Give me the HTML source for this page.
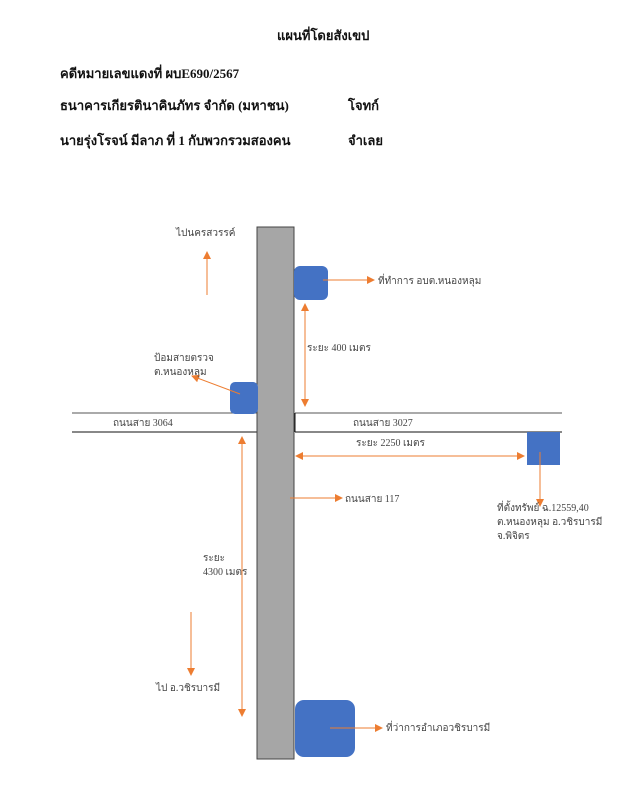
<!DOCTYPE html>
<html><head><meta charset="utf-8"><style>
html,body{margin:0;padding:0;background:#fff;}
svg{display:block}
text{font-family:"Liberation Serif","Noto Serif CJK SC","Noto Sans CJK SC",serif;fill:#333;}
.h{font-size:13px;font-weight:bold;fill:#111;}
.s{font-size:10px;fill:#444;}
</style></head><body>
<svg width="624" height="800" viewBox="0 0 624 800" xmlns="http://www.w3.org/2000/svg">
<defs>
<marker id="a" markerWidth="8" markerHeight="8" refX="7" refY="4" orient="auto" markerUnits="userSpaceOnUse">
<path d="M0,0 L8,4 L0,8 z" fill="#ED7D31"/></marker>
<marker id="b" markerWidth="8" markerHeight="8" refX="1" refY="4" orient="auto" markerUnits="userSpaceOnUse">
<path d="M8,0 L0,4 L8,8 z" fill="#ED7D31"/></marker>
</defs>
<text x="277" y="40" class="h">แผนที่โดยสังเขป</text>
<text x="60" y="78" class="h">คดีหมายเลขแดงที่ ผบE690/2567</text>
<text x="60" y="110" class="h">ธนาคารเกียรตินาคินภัทร จำกัด (มหาชน)</text>
<text x="348" y="110" class="h">โจทก์</text>
<text x="60" y="145" class="h">นายรุ่งโรจน์ มีลาภ ที่ 1 กับพวกรวมสองคน</text>
<text x="348" y="145" class="h">จำเลย</text>

<line x1="72" y1="413" x2="258" y2="413" stroke="#555" stroke-width="1"/>
<line x1="72" y1="432" x2="258" y2="432" stroke="#111" stroke-width="1"/>
<line x1="295" y1="413" x2="562" y2="413" stroke="#555" stroke-width="1"/>
<line x1="295" y1="432" x2="562" y2="432" stroke="#111" stroke-width="1"/>
<line x1="295" y1="413" x2="295" y2="432" stroke="#111" stroke-width="1"/>
<rect x="257" y="227" width="37" height="532" fill="#A6A6A6" stroke="#444" stroke-width="1"/>

<rect x="294" y="266" width="34" height="34" rx="6" fill="#4472C4"/>
<rect x="230" y="382" width="28" height="32" rx="5" fill="#4472C4"/>
<rect x="527" y="432" width="33" height="33" fill="#4472C4"/>
<rect x="295" y="700" width="60" height="57" rx="9" fill="#4472C4"/>

<g stroke="#ED7D31" stroke-width="1" fill="none">
<line x1="207" y1="295" x2="207" y2="252" marker-end="url(#a)"/>
<line x1="323" y1="280" x2="374" y2="280" marker-end="url(#a)"/>
<line x1="305" y1="304" x2="305" y2="406" marker-start="url(#b)" marker-end="url(#a)"/>
<line x1="240" y1="394" x2="192" y2="376" marker-end="url(#a)"/>
<line x1="296" y1="456" x2="524" y2="456" marker-start="url(#b)" marker-end="url(#a)"/>
<line x1="540" y1="452" x2="540" y2="506" marker-end="url(#a)"/>
<line x1="290" y1="498" x2="342" y2="498" marker-end="url(#a)"/>
<line x1="242" y1="437" x2="242" y2="716" marker-start="url(#b)" marker-end="url(#a)"/>
<line x1="191" y1="612" x2="191" y2="675" marker-end="url(#a)"/>
<line x1="330" y1="728" x2="382" y2="728" marker-end="url(#a)"/>
</g>

<text x="176" y="236" class="s">ไปนครสวรรค์</text>
<text x="378" y="284" class="s">ที่ทำการ อบต.หนองหลุม</text>
<text x="307" y="351" class="s">ระยะ 400 เมตร</text>
<text x="154" y="361" class="s">ป้อมสายตรวจ</text>
<text x="154" y="375" class="s">ต.หนองหลุม</text>
<text x="113" y="426" class="s">ถนนสาย 3064</text>
<text x="353" y="426" class="s">ถนนสาย 3027</text>
<text x="356" y="446" class="s">ระยะ 2250 เมตร</text>
<text x="345" y="502" class="s">ถนนสาย 117</text>
<text x="497" y="511" class="s">ที่ตั้งทรัพย์ ฉ.12559,40</text>
<text x="497" y="525" class="s">ต.หนองหลุม อ.วชิรบารมี</text>
<text x="497" y="539" class="s">จ.พิจิตร</text>
<text x="203" y="561" class="s">ระยะ</text>
<text x="203" y="575" class="s">4300 เมตร</text>
<text x="156" y="691" class="s">ไป อ.วชิรบารมี</text>
<text x="386" y="731" class="s">ที่ว่าการอำเภอวชิรบารมี</text>
</svg>
</body></html>
